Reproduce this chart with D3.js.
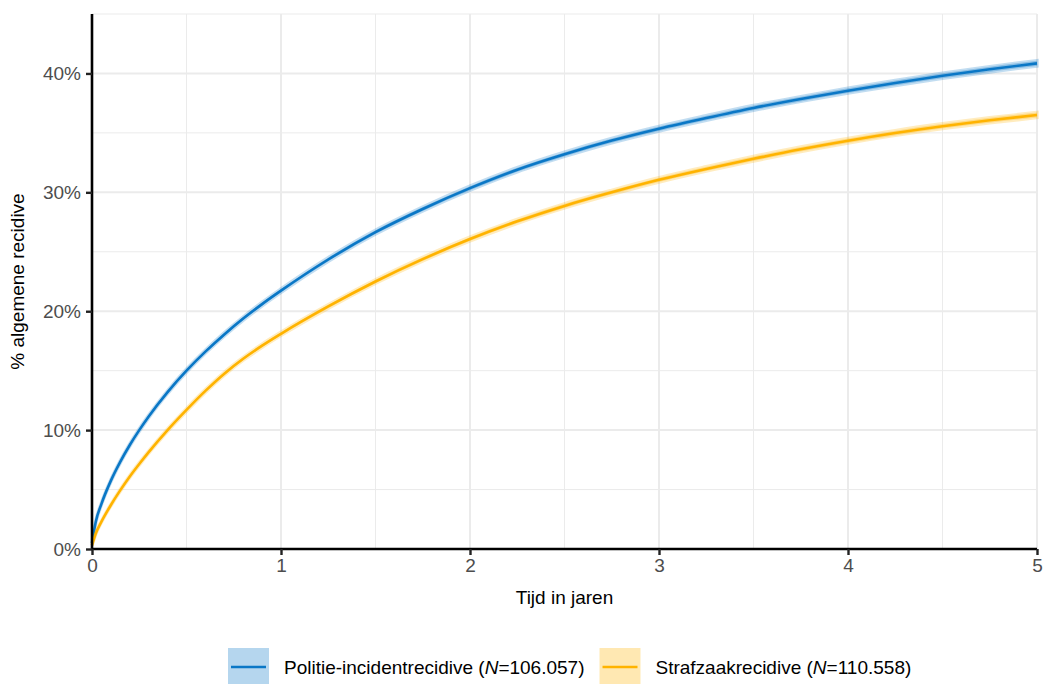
<!DOCTYPE html>
<html>
<head>
<meta charset="utf-8">
<script src="https://cdn.jsdelivr.net/npm/d3@7"></script>
<style>
  body { margin: 0; background: #fff; }
  svg { display: block; font-family: "Liberation Sans", Arial, sans-serif; }
</style>
</head>
<body>
<svg width="1047" height="684"></svg>
<script>
// tijd in jaren
const jaren = [0, 0.02, 0.05, 0.1, 0.15, 0.2, 0.25, 0.3, 0.4, 0.5, 0.6, 0.7, 0.8, 0.9, 1,
  1.25, 1.5, 1.75, 2, 2.25, 2.5, 2.75, 3, 3.25, 3.5, 3.75, 4, 4.25, 4.5, 4.75, 5];

// % recidive per reeks
const politie = [0.5, 2.3, 3.8, 5.75, 7.35, 8.75, 10.0, 11.15, 13.2, 15.0, 16.6, 18.05, 19.38, 20.6, 21.73,
  24.35, 26.65, 28.6, 30.35, 31.9, 33.2, 34.35, 35.35, 36.25, 37.1, 37.85, 38.55, 39.2, 39.8, 40.35, 40.85];
const strafzaak = [0.3, 1.3, 2.3, 3.7, 4.95, 6.1, 7.15, 8.15, 10.0, 11.7, 13.3, 14.75, 16.0, 17.1, 18.1,
  20.4, 22.5, 24.38, 26.07, 27.56, 28.86, 30.0, 31.05, 31.97, 32.82, 33.62, 34.34, 34.99, 35.56, 36.06, 36.5];

// halve breedte betrouwbaarheidsband
const ciPolitie = [0, 0.05, 0.06, 0.07, 0.08, 0.09, 0.1, 0.1, 0.11, 0.12, 0.12, 0.13, 0.13, 0.14, 0.14,
  0.15, 0.16, 0.16, 0.17, 0.17, 0.18, 0.18, 0.19, 0.19, 0.2, 0.2, 0.2, 0.21, 0.21, 0.22, 0.22];
const ciStrafzaak = [0, 0.04, 0.05, 0.06, 0.07, 0.08, 0.09, 0.09, 0.1, 0.11, 0.11, 0.12, 0.12, 0.13, 0.13,
  0.14, 0.15, 0.15, 0.16, 0.16, 0.17, 0.17, 0.18, 0.18, 0.19, 0.19, 0.19, 0.2, 0.2, 0.21, 0.21];

const reeksNamen = ['Politie-incidentrecidive', 'Strafzaakrecidive'];
const reeksN = ['106.057', '110.558'];
const kleuren = ['#0a77c6', '#ffb300'];

const xTicks = [0, 1, 2, 3, 4, 5];
const yTicks = [0, 10, 20, 30, 40];

const svg = d3.select('svg');

const mLeft = 92, mRight = 1037, mTop = 14, mBottom = 549;

const x = d3.scaleLinear().domain([0, 5]).range([mLeft, mRight]);
const y = d3.scaleLinear().domain([0, 45]).range([mBottom, mTop]);

const grid = svg.append('g');

// minor grid
d3.range(0.5, 5, 1).forEach((v) => {
  grid.append('line')
    .attr('x1', x(v)).attr('x2', x(v)).attr('y1', mTop).attr('y2', mBottom)
    .style('stroke', '#ebebeb').style('stroke-width', 1);
});
[5, 15, 25, 35, 45].forEach((v) => {
  grid.append('line')
    .attr('x1', mLeft).attr('x2', mRight).attr('y1', y(v)).attr('y2', y(v))
    .style('stroke', '#ebebeb').style('stroke-width', 1);
});

// major grid
xTicks.forEach((v) => {
  grid.append('line')
    .attr('x1', x(v)).attr('x2', x(v)).attr('y1', mTop).attr('y2', mBottom)
    .style('stroke', '#ebebeb').style('stroke-width', 2);
});
yTicks.forEach((v) => {
  grid.append('line')
    .attr('x1', mLeft).attr('x2', mRight).attr('y1', y(v)).attr('y2', y(v))
    .style('stroke', '#ebebeb').style('stroke-width', 2);
});

// banden en lijnen
const reeksen = [
  { waarden: politie, ci: ciPolitie },
  { waarden: strafzaak, ci: ciStrafzaak },
];

reeksen.forEach((r, i) => {
  const pts = jaren.map((t, j) => ({ t: t, v: r.waarden[j], c: r.ci[j] }));

  const band = d3.area()
    .x((d) => x(d.t))
    .y0((d) => y(d.v - d.c))
    .y1((d) => y(d.v + d.c))
    .curve(d3.curveMonotoneX);

  svg.append('path')
    .datum(pts)
    .attr('d', band)
    .style('fill', kleuren[i])
    .style('fill-opacity', 0.3)
    .style('stroke', kleuren[i])
    .style('stroke-opacity', 0.25)
    .style('stroke-width', 3.5);

  const lijn = d3.line()
    .x((d) => x(d.t))
    .y((d) => y(d.v))
    .curve(d3.curveMonotoneX);

  svg.append('path')
    .datum(pts)
    .attr('d', lijn)
    .style('fill', 'none')
    .style('stroke', kleuren[i])
    .style('stroke-width', 2.6);
});

// assen
const xAxis = svg.append('g')
  .attr('transform', `translate(0,${mBottom})`)
  .call(d3.axisBottom(x).tickValues(xTicks).tickSize(6).tickPadding(4).tickFormat(d3.format('d')));

const yAxis = svg.append('g')
  .attr('transform', `translate(${mLeft},0)`)
  .call(d3.axisLeft(y).tickValues(yTicks).tickSize(6).tickPadding(5).tickFormat((d) => d + '%'));

[xAxis, yAxis].forEach((a) => {
  a.select('.domain').style('stroke', '#000').style('stroke-width', 2.6);
  a.selectAll('.tick line').style('stroke', '#222').style('stroke-width', 2.4);
  a.selectAll('.tick text')
    .style('font-size', '19px')
    .style('fill', '#4d4d4d')
    .style('font-family', '"Liberation Sans", Arial, sans-serif');
});
xAxis.select('.domain').attr('d', `M${mLeft},0H${mRight}`);
yAxis.select('.domain').attr('d', `M0,${mTop}V${mBottom}`);

// astitels
svg.append('text')
  .attr('x', (mLeft + mRight) / 2)
  .attr('y', 604)
  .attr('text-anchor', 'middle')
  .style('font-size', '19px')
  .style('fill', '#000')
  .text('Tijd in jaren');

svg.append('text')
  .attr('transform', `translate(24,${(mTop + mBottom) / 2}) rotate(-90)`)
  .attr('text-anchor', 'middle')
  .style('font-size', '19px')
  .style('fill', '#000')
  .text('% algemene recidive');

// legenda
let lx = 228;
const ly = 648;
reeksNamen.forEach((naam, i) => {
  svg.append('rect')
    .attr('x', lx).attr('y', ly)
    .attr('width', 41).attr('height', 38)
    .style('fill', kleuren[i])
    .style('fill-opacity', 0.3);
  svg.append('line')
    .attr('x1', lx + 3).attr('x2', lx + 38)
    .attr('y1', ly + 19).attr('y2', ly + 19)
    .style('stroke', kleuren[i])
    .style('stroke-width', 2.6);

  const txt = svg.append('text')
    .attr('x', lx + 56)
    .attr('y', ly + 19)
    .attr('dy', '0.35em')
    .style('font-size', '19px')
    .style('fill', '#000');
  txt.append('tspan').text(naam + ' (');
  txt.append('tspan').style('font-style', 'italic').text('N');
  txt.append('tspan').text('=' + reeksN[i] + ')');

  lx = lx + 56 + txt.node().getComputedTextLength() + 15;
});
</script>
</body>
</html>
